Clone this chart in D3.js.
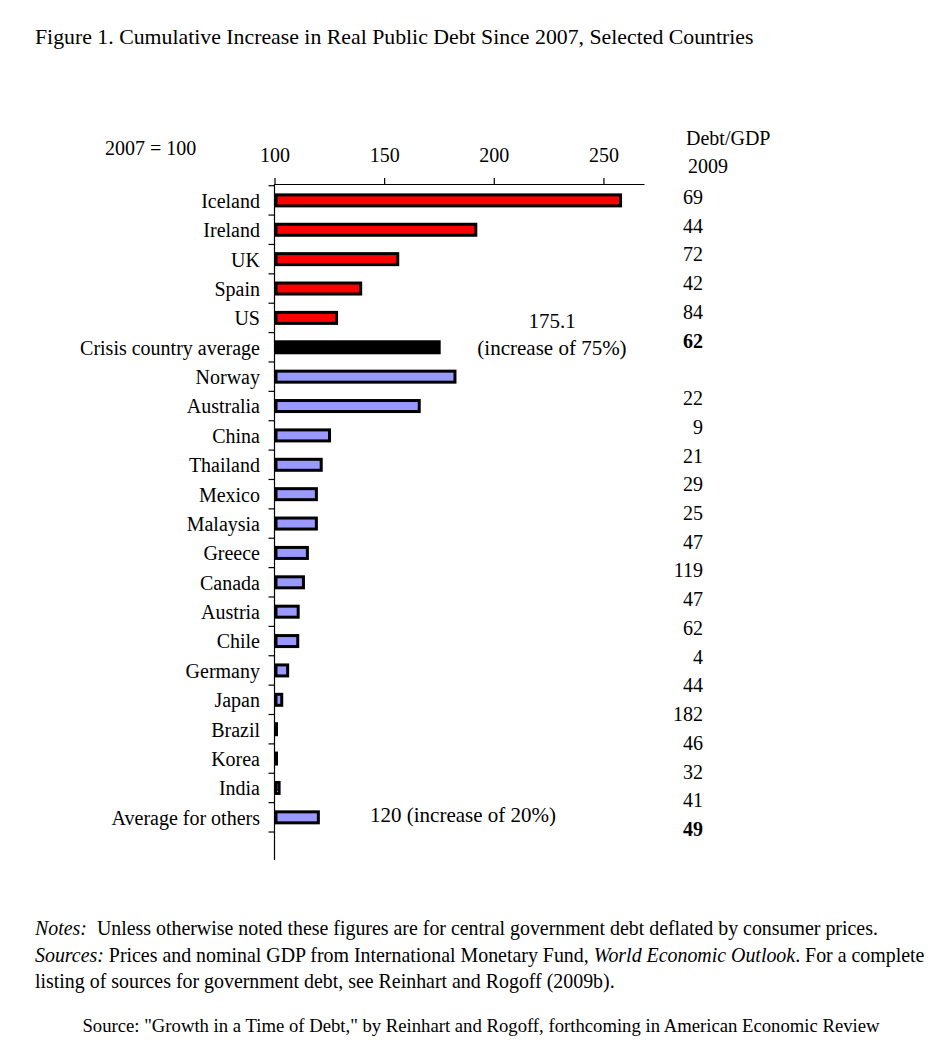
<!DOCTYPE html>
<html><head><meta charset="utf-8">
<script src="https://cdn.jsdelivr.net/npm/d3@7"></script>
<style>
body{margin:0;background:#fff;}
text{font-family:"Liberation Serif","Times New Roman",serif;fill:#000;}
</style></head>
<body>
<svg id="chart" width="940" height="1048"></svg>
<script>
const countries = ["Iceland","Ireland","UK","Spain","US","Crisis country average","Norway","Australia","China","Thailand","Mexico","Malaysia","Greece","Canada","Austria","Chile","Germany","Japan","Brazil","Korea","India","Average for others"];
const values = [257.8,191.8,156.2,139.3,128.3,175.1,182.3,166.0,125.1,121.3,119.1,119.1,115.0,113.2,110.8,110.6,106.0,103.3,100.6,100.3,102.1,120.0];
const groups = ["crisis","crisis","crisis","crisis","crisis","crisisAvg","other","other","other","other","other","other","other","other","other","other","other","other","other","other","other","otherAvg"];
const debtGDP = ["69","44","72","42","84","62","","22","9","21","29","25","47","119","47","62","4","44","182","46","32","41","49"];
const debtBold = [5,22];
const xTicks = [100,150,200,250];
const colors = {crisis:"#FF0000", crisisAvg:"#000000", other:"#9999FF", otherAvg:"#9999FF"};

const svg = d3.select("#chart");
const x = d3.scaleLinear().domain([100,268.5]).range([274.5,644]);
const y = d3.scaleBand().domain([...countries, "_blank"]).range([185.7,861.4]).padding(0);
const yNum = d3.scalePoint().domain(d3.range(debtGDP.length)).range([204,836]);

// title
svg.append("text").attr("x",35).attr("y",44).style("font-size","21.8px")
  .text("Figure 1. Cumulative Increase in Real Public Debt Since 2007, Selected Countries");

// top axis
const gx = svg.append("g").attr("transform","translate(0,184)")
  .call(d3.axisTop(x).tickValues(xTicks).tickSize(6).tickSizeOuter(0).tickPadding(16).tickFormat(d3.format("d")));
gx.select(".domain").attr("stroke","#000").attr("stroke-width",1.2);
gx.selectAll(".tick line").attr("stroke","#000").attr("stroke-width",1.2);
gx.selectAll(".tick text").style("font-size","20px").style("font-family","'Liberation Serif',serif").attr("fill","#000");

svg.append("text").attr("x",105).attr("y",155).style("font-size","20px").text("2007 = 100");

// left axis line + boundary ticks
svg.append("line").attr("x1",x(100)).attr("x2",x(100)).attr("y1",184).attr("y2",860)
  .attr("stroke","#000").attr("stroke-width",1.2);
svg.append("g").selectAll("line").data([...countries, "_blank"]).join("line")
  .attr("x1",x(100)-6).attr("x2",x(100)).attr("y1",d=>y(d)).attr("y2",d=>y(d))
  .attr("stroke","#000").attr("stroke-width",1.2);

// bars
const bh = 11;
svg.append("g").selectAll("rect").data(countries).join("rect")
  .attr("x",x(100)+1.5)
  .attr("y",d=>y(d)+y.bandwidth()/2-bh/2)
  .attr("width",(d,i)=>Math.max(0.5,x(values[i])-x(100)-1.5))
  .attr("height",bh)
  .attr("fill",(d,i)=>colors[groups[i]])
  .attr("stroke","#000").attr("stroke-width",3);

// category labels
svg.append("g").selectAll("text").data(countries).join("text")
  .attr("x",260).attr("y",d=>y(d)+y.bandwidth()/2).attr("dy","0.37em")
  .attr("text-anchor","end").style("font-size","20px").text(d=>d);

// right column
svg.append("text").attr("x",686).attr("y",145).style("font-size","20px").text("Debt/GDP");
svg.append("text").attr("x",688).attr("y",173).style("font-size","20px").text("2009");
svg.append("g").selectAll("text").data(debtGDP).join("text")
  .attr("x",703).attr("y",(d,i)=>yNum(i)).attr("text-anchor","end")
  .style("font-size","20px").style("font-weight",(d,i)=>debtBold.includes(i)?"bold":"normal").text(d=>d);

// annotations
svg.append("text").attr("x",552).attr("y",328).attr("text-anchor","middle").style("font-size","21px").text("175.1");
svg.append("text").attr("x",552).attr("y",355).attr("text-anchor","middle").style("font-size","21px").text("(increase of 75%)");
svg.append("text").attr("x",370).attr("y",822).style("font-size","21px").text("120 (increase of 20%)");

// notes
const n1 = svg.append("text").attr("x",35).attr("y",935).style("font-size","19.9px");
n1.append("tspan").style("font-style","italic").text("Notes:");
n1.append("tspan").text("\u00a0 Unless otherwise noted these figures are for central government debt deflated by consumer prices.");
const n2 = svg.append("text").attr("x",35).attr("y",962).style("font-size","19.9px");
n2.append("tspan").style("font-style","italic").text("Sources:");
n2.append("tspan").text(" Prices and nominal GDP from International Monetary Fund, ");
n2.append("tspan").style("font-style","italic").text("World Economic Outlook");
n2.append("tspan").text(". For a complete");
svg.append("text").attr("x",35).attr("y",988).style("font-size","19.9px").text("listing of sources for government debt, see Reinhart and Rogoff (2009b).");
svg.append("text").attr("x",481).attr("y",1032).attr("text-anchor","middle").style("font-size","18.7px")
  .text("Source: \"Growth in a Time of Debt,\" by Reinhart and Rogoff, forthcoming in American Economic Review");
</script>
</body></html>
